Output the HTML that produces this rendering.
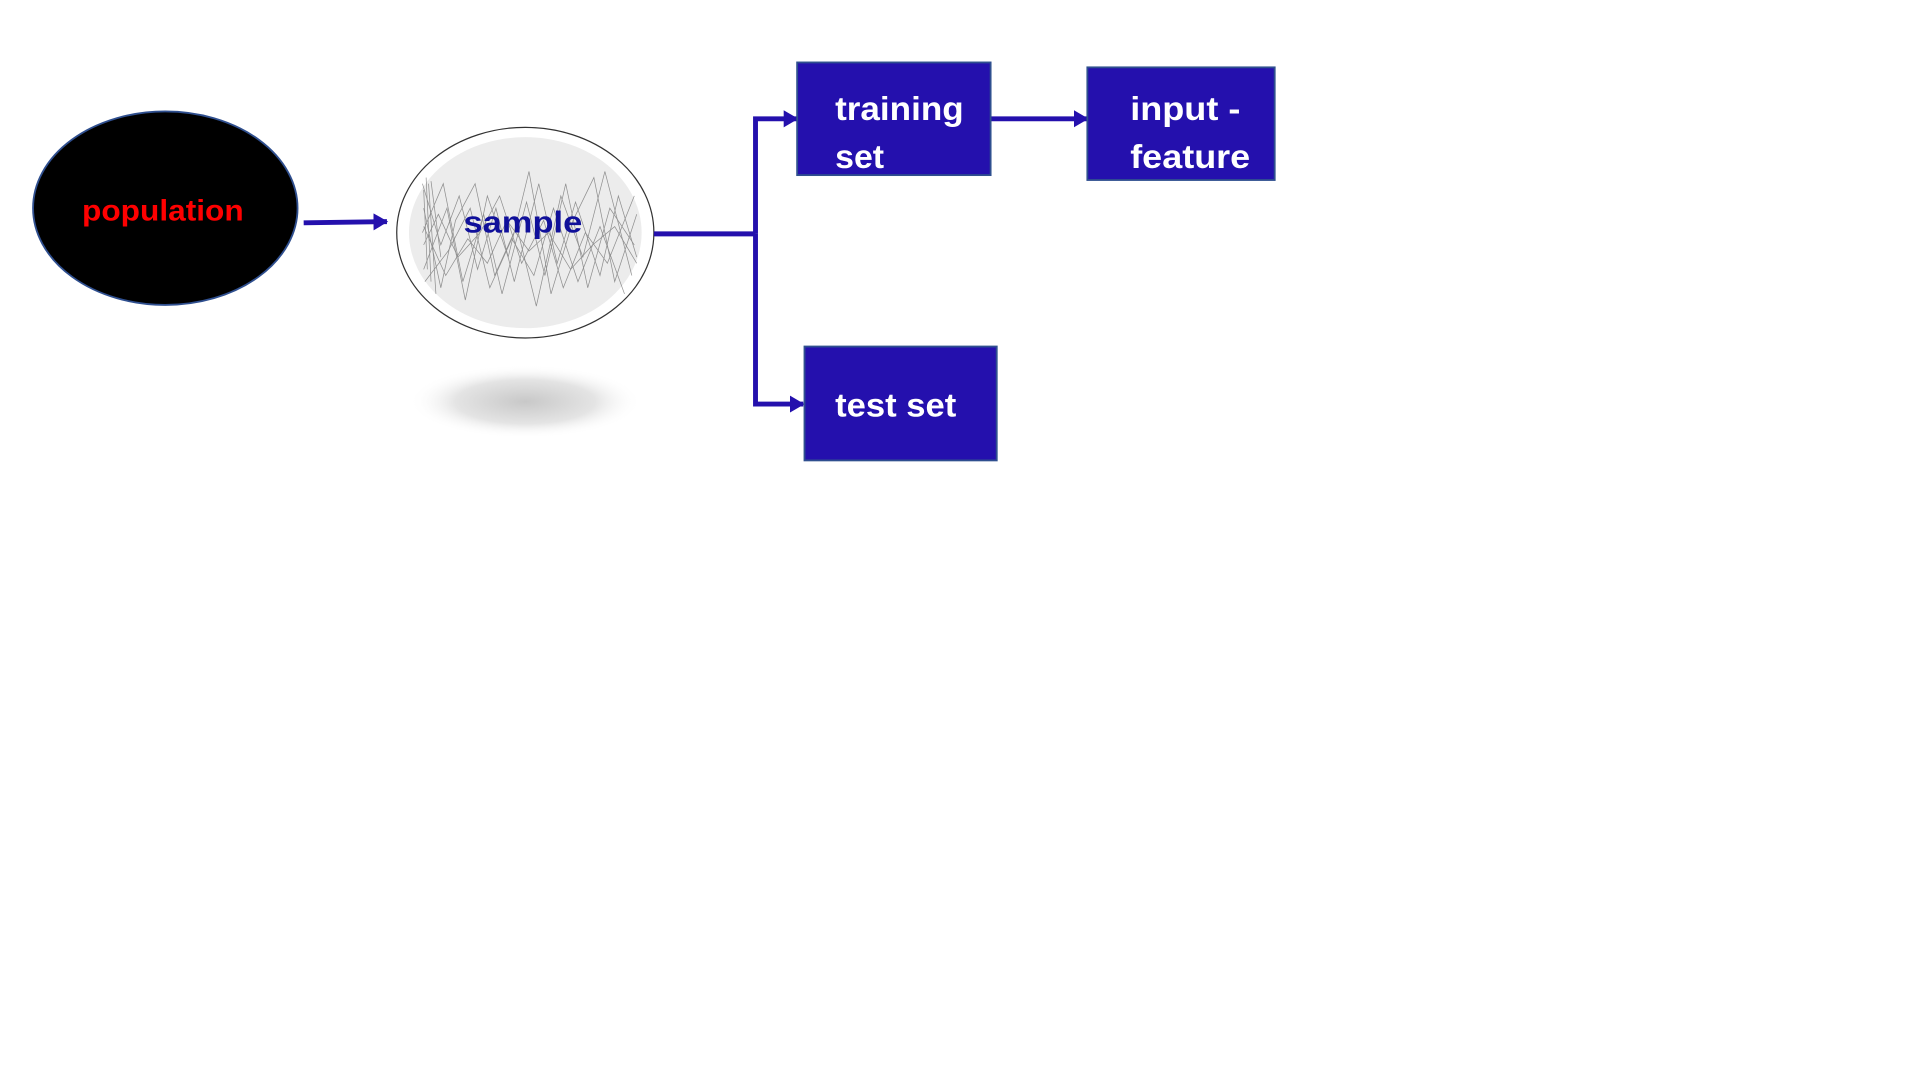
<!DOCTYPE html>
<html><head><meta charset="utf-8"><style>
html,body{margin:0;padding:0;background:#fff;width:1920px;height:1080px;overflow:hidden}
svg{display:block}
text{font-family:"Liberation Sans",sans-serif;font-weight:bold}
</style></head><body>
<svg width="1920" height="1080" viewBox="0 0 1568 882" xmlns="http://www.w3.org/2000/svg">
<defs>
<radialGradient id="sh" cx="50%" cy="50%" r="50%">
<stop offset="0" stop-color="#c8c8c8"/><stop offset="0.6" stop-color="#e4e4e4"/><stop offset="1" stop-color="#fff" stop-opacity="0"/>
</radialGradient>
<marker id="ar" markerWidth="14" markerHeight="14" refX="11" refY="7" orient="auto" markerUnits="userSpaceOnUse">
<path d="M0,0 L12,7 L0,14 Z" fill="#2410ad"/></marker>
</defs>
<ellipse cx="135" cy="170" rx="108" ry="79" fill="#000" stroke="#2f4f8f" stroke-width="1.5"/>
<text x="133" y="180" fill="#f00" font-size="24" text-anchor="middle" textLength="132" lengthAdjust="spacingAndGlyphs">population</text>
<line x1="248" y1="182" x2="316" y2="181" stroke="#2410ad" stroke-width="4" marker-end="url(#ar)"/>
<ellipse cx="429" cy="328" rx="95" ry="30" fill="url(#sh)"/>
<ellipse cx="429" cy="190" rx="105" ry="86" fill="#fff" stroke="#333" stroke-width="1"/>
<ellipse cx="429" cy="190" rx="95" ry="78" fill="#ececec"/>
<g stroke="#444" stroke-width="0.6" fill="none" opacity="0.55">
<path d="M345,150 L360,200 L375,160 L390,220 L405,170 L420,230 L440,150 L455,215 L470,165 L490,225 L505,160 L520,210"/>
<path d="M345,190 L362,150 L378,230 L395,175 L410,240 L430,165 L445,225 L462,150 L480,235 L498,170 L518,200"/>
<path d="M346,220 L365,170 L380,245 L398,160 L415,210 L432,140 L450,240 L468,180 L485,145 L502,230 L520,175"/>
<path d="M346,170 L360,235 L372,180 L388,150 L404,225 L422,185 L438,250 L458,160 L476,210 L494,140 L516,225"/>
<path d="M346,200 L358,175 L374,210 L392,190 L408,160 L426,215 L444,180 L460,235 L478,190 L496,215 L518,160"/>
<path d="M347,230 L366,205 L384,170 L400,235 L418,195 L436,225 L452,170 L472,230 L490,185 L510,240"/>
<path d="M346,185 L364,225 L382,195 L398,215 L414,180 L432,205 L448,190 L466,220 L484,200 L502,185 L520,215"/>
<path d="M348,145 L352,230 M350,150 L356,240 M346,155 L349,220 M352,148 L360,210"/>
</g>
<text x="427" y="190" fill="#10109a" font-size="25" text-anchor="middle" textLength="97" lengthAdjust="spacingAndGlyphs">sample</text>
<polyline points="534,191 617,191" stroke="#2410ad" stroke-width="4" fill="none"/>
<polyline points="617,191 617,97 651,97" stroke="#2410ad" stroke-width="4" fill="none" marker-end="url(#ar)"/>
<polyline points="617,191 617,330 656,330" stroke="#2410ad" stroke-width="4" fill="none" marker-end="url(#ar)"/>
<line x1="809" y1="97" x2="888" y2="97" stroke="#2410ad" stroke-width="4" marker-end="url(#ar)"/>
<rect x="651" y="51" width="158" height="92" fill="#2410ad" stroke="#2f4f8f" stroke-width="1.5"/>
<text x="682" y="98" fill="#fff" font-size="27" textLength="105" lengthAdjust="spacingAndGlyphs">training</text>
<text x="682" y="137" fill="#fff" font-size="27" textLength="40" lengthAdjust="spacingAndGlyphs">set</text>
<rect x="888" y="55" width="153" height="92" fill="#2410ad" stroke="#2f4f8f" stroke-width="1.5"/>
<text x="923" y="98" fill="#fff" font-size="27" textLength="90" lengthAdjust="spacingAndGlyphs">input -</text>
<text x="923" y="137" fill="#fff" font-size="27" textLength="98" lengthAdjust="spacingAndGlyphs">feature</text>
<rect x="657" y="283" width="157" height="93" fill="#2410ad" stroke="#2f4f8f" stroke-width="1.5"/>
<text x="682" y="340" fill="#fff" font-size="27" textLength="99" lengthAdjust="spacingAndGlyphs">test set</text>
</svg>
</body></html>
